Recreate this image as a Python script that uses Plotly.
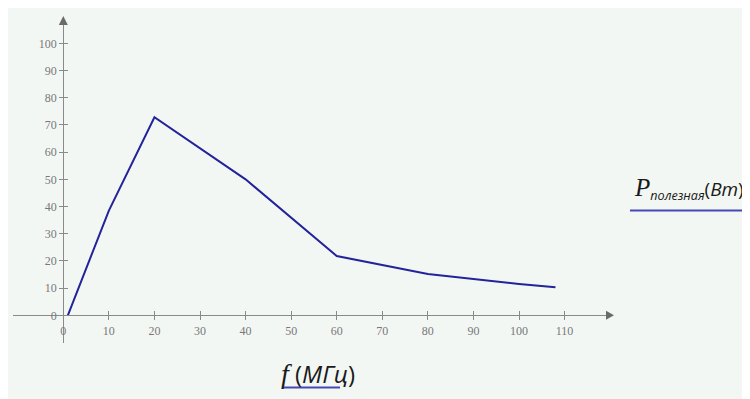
import plotly.graph_objects as go

# Data
f_mhz = [1, 10, 20, 40, 60, 80, 100, 108]
p_useful = [0, 38.5, 72.8, 50, 21.8, 15.2, 11.5, 10.3]
x_ticks = [0, 10, 20, 30, 40, 50, 60, 70, 80, 90, 100, 110]
y_ticks = [0, 10, 20, 30, 40, 50, 60, 70, 80, 90, 100]

OFF = 8  # the page body has an 8px default margin
W, H = 750 - OFF, 399 - OFF


def px(v):
    return (v - OFF) / W


def py(v):
    return (H - (v - OFF)) / H


# axis geometry (window pixels)
x_px0, x_scale = 63.3, 4.557
y_px0, y_scale = 315.3, 2.72
x_left_px, x_right_px = 13.3, 607
y_top_px, y_bot_px = 24, 343

x_range = [(x_left_px - x_px0) / x_scale, (x_right_px - x_px0) / x_scale]
y_range = [(y_px0 - y_bot_px) / y_scale, (y_px0 - y_top_px) / y_scale]
x_dom = [px(x_left_px), px(x_right_px)]
y_dom = [py(y_bot_px), py(y_top_px)]

axis_col = "#8a8a8a"
tick_font = dict(family="Liberation Serif, DejaVu Serif, serif", size=12, color="#787878")
line_col = "#23239a"
ul_col = "#4848b4"

fig = go.Figure()
fig.add_trace(go.Scatter(x=f_mhz, y=p_useful, mode="lines",
                         line=dict(color=line_col, width=2), showlegend=False,
                         hoverinfo="skip"))
fig.add_trace(go.Scatter(x=[None], y=[None], xaxis="x2", yaxis="y2", mode="lines",
                         showlegend=False, hoverinfo="skip"))

common_x = dict(range=x_range, domain=x_dom, anchor="free", position=py(y_px0),
                showgrid=False, zeroline=False, showline=True, linecolor=axis_col,
                linewidth=1.3, tickvals=x_ticks, tickcolor=axis_col, ticklen=4,
                tickwidth=1)
common_y = dict(range=y_range, domain=y_dom, anchor="free", position=px(x_px0),
                showgrid=False, zeroline=False, showline=True, linecolor=axis_col,
                linewidth=1.3, tickvals=y_ticks, tickcolor=axis_col, ticklen=4,
                tickwidth=1)

fig.update_layout(
    width=W, height=H,
    margin=dict(l=0, r=0, t=0, b=0),
    paper_bgcolor="white",
    plot_bgcolor="rgba(0,0,0,0)",
    xaxis=dict(**common_x, ticks="outside", tickfont=tick_font,
               ticktext=[str(v) for v in x_ticks]),
    yaxis=dict(**common_y, ticks="outside", tickfont=tick_font,
               ticktext=[str(v) for v in y_ticks]),
    xaxis2=dict(**common_x, ticks="inside", showticklabels=False, overlaying="x"),
    yaxis2=dict(**common_y, ticks="inside", showticklabels=False, overlaying="y"),
)

# background panel
fig.add_shape(type="rect", xref="paper", yref="paper", x0=px(7), x1=1.0,
              y0=0, y1=py(7), fillcolor="#f3f7f4",
              line=dict(width=0), layer="below")

# axis arrow heads
arrow_col = "#6a6a6a"
ax_y = py(y_px0)
fig.add_shape(type="path", xref="paper", yref="paper", fillcolor=arrow_col,
              line=dict(width=0),
              path=f"M {px(606)} {py(y_px0-4.5)} L {px(614)} {ax_y} L {px(606)} {py(y_px0+4.5)} Z")
ay_x = px(x_px0)
fig.add_shape(type="path", xref="paper", yref="paper", fillcolor=arrow_col,
              line=dict(width=0),
              path=f"M {px(x_px0-4.5)} {py(25)} L {ay_x} {py(16)} L {px(x_px0+4.5)} {py(25)} Z")

# axis titles
fig.add_annotation(
    xref="paper", yref="paper", x=px(279), y=py(373), xanchor="left", yanchor="middle",
    text='<span style="font-family:Liberation Serif;font-style:italic;font-size:28px">f</span>'
         '<span style="font-family:Open Sans;font-size:24px"> (<i>МГц</i>)</span>',
    showarrow=False, font=dict(color="#1a1a1a"))
fig.add_shape(type="line", xref="paper", yref="paper", x0=px(283), x1=px(340),
              y0=py(387.5), y1=py(387.5), line=dict(color=ul_col, width=2.2))

fig.add_annotation(
    xref="paper", yref="paper", x=px(632), y=py(189), xanchor="left", yanchor="middle",
    text='<span style="font-family:Liberation Serif;font-style:italic;font-size:25px">P</span>'
         '<span style="font-family:Open Sans;font-style:italic;font-size:18px"><sub>полезная</sub></span>'
         '<span style="font-family:Open Sans;font-size:19px">(<i>Вт</i>)</span>',
    showarrow=False, font=dict(color="#1a1a1a"))
fig.add_shape(type="line", xref="paper", yref="paper", x0=px(630), x1=1.0,
              y0=py(210.5), y1=py(210.5), line=dict(color=ul_col, width=2.2))

fig.write_html("out.html")
